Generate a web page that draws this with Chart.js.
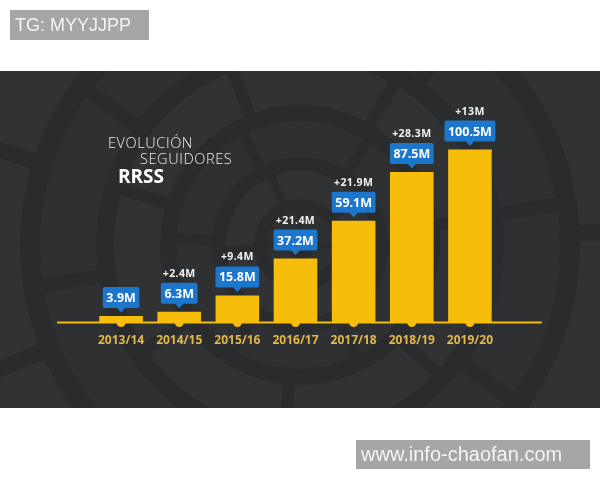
<!DOCTYPE html>
<html>
<head>
<meta charset="utf-8">
<script src="https://cdn.jsdelivr.net/npm/chart.js@4.4.1/dist/chart.umd.min.js"></script>
<style>
  html, body { margin: 0; padding: 0; background: #ffffff; }
  #wrap { width: 600px; height: 480px; position: relative; }
</style>
</head>
<body>
<div id="wrap"><canvas id="chart" width="600" height="480"></canvas></div>
<script>
// Seasons and social-media follower totals (millions)
const seasons = ['2013/14', '2014/15', '2015/16', '2016/17', '2017/18', '2018/19', '2019/20'];
const followers = [3.9, 6.3, 15.8, 37.2, 59.1, 87.5, 100.5];
const growthLabels = ['', '+2.4M', '+9.4M', '+21.4M', '+21.9M', '+28.3M', '+13M'];
const titleLines = ['EVOLUCIÓN', 'SEGUIDORES', 'RRSS'];
const watermarkTop = 'TG: MYYJJPP';
const watermarkBottom = 'www.info-chaofan.com';

const GOLD = '#f6bd0b';
const BLUE = '#1b76cc';
const PANEL_TOP = 71, PANEL_BOTTOM = 408;

function fmt(v) { return v + 'M'; }

// Dark panel with a concentric tiled-ring backdrop
const backdrop = {
  id: 'backdrop',
  beforeDraw(chart) {
    const ctx = chart.ctx;
    ctx.save();
    ctx.fillStyle = '#ffffff';
    ctx.fillRect(0, 0, chart.width, chart.height);
    ctx.beginPath();
    ctx.rect(0, PANEL_TOP, chart.width, PANEL_BOTTOM - PANEL_TOP);
    ctx.clip();
    ctx.fillStyle = '#2a2b2d';
    ctx.fillRect(0, PANEL_TOP, chart.width, PANEL_BOTTOM - PANEL_TOP);
    const cx = 300, cy = 245;
    const bands = [[14, 34], [46, 74], [88, 124], [140, 186], [204, 260], [280, 350], [372, 460]];
    bands.forEach(([r0, r1], k) => {
      ctx.beginPath();
      ctx.arc(cx, cy, r1, 0, Math.PI * 2);
      ctx.arc(cx, cy, r0, Math.PI * 2, 0, true);
      ctx.fillStyle = k % 2 ? '#313234' : '#2f3032';
      ctx.fill();
      // radial gaps between tiles
      const n = 4 + k;
      ctx.strokeStyle = '#2a2b2d';
      ctx.lineWidth = 6 + k * 2;
      for (let j = 0; j < n; j++) {
        const a = k * 0.55 + j * (Math.PI * 2 / n);
        ctx.beginPath();
        ctx.moveTo(cx + Math.cos(a) * (r0 - 2), cy + Math.sin(a) * (r0 - 2));
        ctx.lineTo(cx + Math.cos(a) * (r1 + 2), cy + Math.sin(a) * (r1 + 2));
        ctx.stroke();
      }
    });
    ctx.restore();
  }
};

// Baseline, bar-foot dots, value callouts, title and watermarks
const overlay = {
  id: 'overlay',
  afterDatasetsDraw(chart) {
    const ctx = chart.ctx;
    const meta = chart.getDatasetMeta(0);
    const base = chart.chartArea.bottom;
    const xs = chart.scales.x;
    ctx.save();

    // baseline
    ctx.strokeStyle = GOLD;
    ctx.lineWidth = 2;
    ctx.beginPath();
    ctx.moveTo(xs.getPixelForValue(0) - 64, base);
    ctx.lineTo(xs.getPixelForValue(seasons.length - 1) + 72, base);
    ctx.stroke();

    meta.data.forEach((bar, i) => {
      // dot under each bar
      ctx.fillStyle = GOLD;
      ctx.beginPath();
      ctx.arc(bar.x, base, 4.5, 0, Math.PI * 2);
      ctx.fill();

      // blue callout with the value
      const text = fmt(followers[i]);
      ctx.font = 'bold 12.5px "Open Sans"';
      const w = ctx.measureText(text).width + 7;
      const h = 21;
      const bottom = bar.y - 8;
      const top = bottom - h;
      ctx.fillStyle = BLUE;
      ctx.beginPath();
      ctx.roundRect(bar.x - w / 2, top, w, h, 2);
      ctx.fill();
      ctx.beginPath();
      ctx.moveTo(bar.x - 4.5, bottom - 0.5);
      ctx.lineTo(bar.x + 4.5, bottom - 0.5);
      ctx.lineTo(bar.x, bottom + 4.5);
      ctx.closePath();
      ctx.fill();
      ctx.fillStyle = '#ffffff';
      ctx.textAlign = 'center';
      ctx.textBaseline = 'middle';
      ctx.fillText(text, bar.x, top + h / 2 + 1);

      // growth over the previous season
      if (growthLabels[i]) {
        ctx.font = 'bold 10.5px "Open Sans"';
        ctx.letterSpacing = '0.4px';
        ctx.fillStyle = '#f2f2f2';
        ctx.fillText(growthLabels[i], bar.x, top - 9);
        ctx.letterSpacing = '0px';
      }
    });

    // title block
    ctx.textAlign = 'left';
    ctx.textBaseline = 'alphabetic';
    ctx.fillStyle = '#ededed';
    ctx.letterSpacing = '0.6px';
    ctx.font = '300 14.5px "Open Sans"';
    ctx.fillText(titleLines[0], 108, 148);
    ctx.fillText(titleLines[1], 140, 164);
    ctx.letterSpacing = '0px';
    ctx.fillStyle = '#ffffff';
    ctx.font = 'bold 19px "Open Sans"';
    ctx.fillText(titleLines[2], 118, 183);

    // watermark boxes
    ctx.fillStyle = '#a6a6a6';
    ctx.fillRect(10, 10, 139, 30);
    ctx.fillRect(356, 440, 234, 29);
    ctx.fillStyle = '#f4f4f4';
    ctx.textBaseline = 'middle';
    ctx.font = '18px "Liberation Sans"';
    ctx.fillText(watermarkTop, 15, 26);
    ctx.font = '20px "Liberation Sans"';
    ctx.fillText(watermarkBottom, 361, 455);
    ctx.restore();
  }
};

new Chart(document.getElementById('chart'), {
  type: 'bar',
  data: {
    labels: seasons,
    datasets: [{
      data: followers,
      backgroundColor: GOLD,
      borderWidth: 0,
      barPercentage: 0.75,
      categoryPercentage: 1
    }]
  },
  options: {
    responsive: false,
    devicePixelRatio: 1,
    animation: false,
    layout: { padding: { left: 92, right: 101, top: 116, bottom: 121 } },
    plugins: { legend: { display: false }, tooltip: { enabled: false } },
    scales: {
      x: {
        grid: { display: false, drawTicks: false },
        border: { display: false },
        ticks: {
          color: '#e0b84e',
          padding: 11,
          font: { family: '"Open Sans"', size: 12, weight: 'bold' }
        }
      },
      y: { display: false, min: 0, max: 120 }
    }
  },
  plugins: [backdrop, overlay]
});
</script>
</body>
</html>
